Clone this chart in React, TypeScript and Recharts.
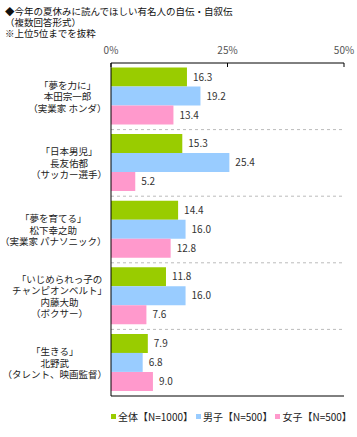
import React from "react";
import {
  BarChart,
  Bar,
  XAxis,
  YAxis,
  CartesianGrid,
  Legend,
  LabelList,
} from "recharts";

const FONT = "'Noto Sans CJK JP', 'Noto Sans', sans-serif";

const titleLines = [
  "◆今年の夏休みに読んでほしい有名人の自伝・自叙伝",
  "（複数回答形式）",
  "※上位5位までを抜粋",
];

// 本の題名 / 著者 / 肩書き（1冊目〜5冊目）
const categoryLines = [
  ["「夢を力に」", "本田宗一郎", "（実業家 ホンダ）"],
  ["「日本男児」", "長友佑都", "（サッカー選手）"],
  ["「夢を育てる」", "松下幸之助", "（実業家 パナソニック）"],
  ["「いじめられっ子の", "チャンピオンベルト」", "内藤大助", "（ボクサー）"],
  ["「生きる」", "北野武", "（タレント、映画監督）"],
];

const allValues = [16.3, 15.3, 14.4, 11.8, 7.9];
const boyValues = [19.2, 25.4, 16.0, 16.0, 6.8];
const girlValues = [13.4, 5.2, 12.8, 7.6, 9.0];

const xTicks = [0, 25, 50];

const series = [
  { key: "all", name: "全体【N=1000】", color: "#99cc00" },
  { key: "boys", name: "男子【N=500】", color: "#99ccff" },
  { key: "girls", name: "女子【N=500】", color: "#ff99cc" },
];

const data = categoryLines.map((lines, i) => ({
  name: lines.join(""),
  all: allValues[i],
  boys: boyValues[i],
  girls: girlValues[i],
}));

const textWidth = (s: string, size: number) => {
  let w = 0;
  for (const ch of s) {
    if (ch === " ") w += size * 0.33;
    else if (ch.charCodeAt(0) < 256) w += size * 0.55;
    else w += size;
  }
  return w;
};

// 行ごとに中央揃え、ブロックは右寄せ
const CategoryTick = (props: any) => {
  const { y, payload } = props;
  const lines = categoryLines[payload.index] ?? [String(payload.value)];
  const size = 9.5;
  const lh = 11.5;
  const blockW = Math.max(...lines.map((l) => textWidth(l, size)));
  const right = 107;
  const cx = right - blockW / 2;
  const startY = y - ((lines.length - 1) * lh) / 2;
  return (
    <g>
      {lines.map((l, i) => (
        <text
          key={i}
          x={cx}
          y={startY + i * lh}
          textAnchor="middle"
          dominantBaseline="central"
          fontSize={size}
          fill="#222"
          fontFamily={FONT}
        >
          {l}
        </text>
      ))}
    </g>
  );
};

const LegendContent = () => (
  <div
    style={{
      display: "flex",
      alignItems: "center",
      height: 14,
      paddingLeft: 111,
      fontSize: 10,
      fontFamily: FONT,
      color: "#222",
      whiteSpace: "nowrap",
    }}
  >
    {series.map((s) => (
      <span
        key={s.key}
        style={{ display: "flex", alignItems: "center", marginRight: 3 }}
      >
        <span
          style={{
            width: 5,
            height: 5,
            background: s.color,
            display: "inline-block",
            marginRight: 2,
          }}
        />
        {s.name}
      </span>
    ))}
  </div>
);

export default function App() {
  return (
    <div
      style={{
        position: "absolute",
        left: 0,
        top: 0,
        width: 357,
        height: 437,
        background: "#fff",
        fontFamily: FONT,
      }}
    >
      <div
        style={{
          position: "absolute",
          left: 5,
          top: 6,
          fontSize: 9.5,
          lineHeight: "11px",
          color: "#111",
          zIndex: 1,
        }}
      >
        {titleLines.map((t, i) => (
          <div key={i}>{t}</div>
        ))}
      </div>
      <BarChart
        width={357}
        height={437}
        data={data}
        layout="vertical"
        margin={{ top: 38, right: 13, bottom: 14, left: 0 }}
        barCategoryGap={4.5}
        barGap={0}
      >
        <CartesianGrid
          vertical={false}
          stroke="#bbb"
          strokeDasharray="3 3"
          horizontalCoordinatesGenerator={({ offset }: any) =>
            [1, 2, 3, 4].map((i) => offset.top + (i * offset.height) / 5)
          }
        />
        <XAxis
          type="number"
          orientation="top"
          domain={[0, 50]}
          ticks={xTicks}
          height={25}
          tickFormatter={(v) => `${v}%`}
          tickSize={-4}
          tickMargin={13}
          tick={{ fontSize: 10, fill: "#555", fontFamily: FONT }}
          axisLine={{ stroke: "#000" }}
          tickLine={{ stroke: "#000" }}
        />
        <XAxis
          xAxisId="bottom"
          type="number"
          orientation="bottom"
          domain={[0, 50]}
          height={13}
          tick={false}
          tickLine={false}
          axisLine={{ stroke: "#000" }}
        />
        <YAxis
          type="category"
          dataKey="name"
          width={111}
          tick={<CategoryTick />}
          tickLine={false}
          axisLine={{ stroke: "#000" }}
          interval={0}
        />
        <YAxis
          yAxisId="right"
          type="category"
          dataKey="name"
          orientation="right"
          width={0}
          tick={false}
          tickLine={false}
          axisLine={{ stroke: "#000" }}
        />
        <Legend verticalAlign="bottom" content={<LegendContent />} />
        {series.map((s) => (
          <Bar
            key={s.key}
            dataKey={s.key}
            name={s.name}
            fill={s.color}
            isAnimationActive={false}
          >
            <LabelList
              dataKey={s.key}
              position="right"
              offset={6}
              formatter={(v: any) => Number(v).toFixed(1)}
              style={{ fontSize: 10, fill: "#333", fontFamily: FONT }}
            />
          </Bar>
        ))}
      </BarChart>
    </div>
  );
}
